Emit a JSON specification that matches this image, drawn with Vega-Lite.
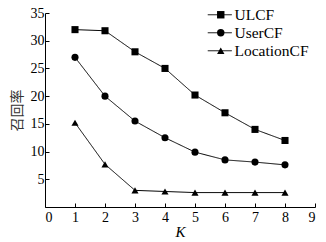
{
  "$schema": "https://vega.github.io/schema/vega-lite/v6.json",
  "autosize": "none",
  "width": 270,
  "height": 194,
  "padding": {"left": 45, "top": 13, "right": 11, "bottom": 35},
  "background": "white",
  "config": {
    "view": {"stroke": null},
    "font": "Liberation Serif",
    "axis": {
      "grid": false,
      "domainColor": "black",
      "tickColor": "black",
      "labelColor": "black",
      "labelFont": "Liberation Serif",
      "labelFontSize": 14,
      "titleFontWeight": "normal",
      "titleColor": "black"
    }
  },
  "data": {
    "values": [
      {"K": 1, "v": 32.0, "s": "ULCF"},
      {"K": 2, "v": 31.8, "s": "ULCF"},
      {"K": 3, "v": 28.0, "s": "ULCF"},
      {"K": 4, "v": 25.0, "s": "ULCF"},
      {"K": 5, "v": 20.2, "s": "ULCF"},
      {"K": 6, "v": 17.0, "s": "ULCF"},
      {"K": 7, "v": 14.0, "s": "ULCF"},
      {"K": 8, "v": 12.0, "s": "ULCF"},
      {"K": 1, "v": 27.0, "s": "UserCF"},
      {"K": 2, "v": 20.0, "s": "UserCF"},
      {"K": 3, "v": 15.5, "s": "UserCF"},
      {"K": 4, "v": 12.5, "s": "UserCF"},
      {"K": 5, "v": 9.9, "s": "UserCF"},
      {"K": 6, "v": 8.5, "s": "UserCF"},
      {"K": 7, "v": 8.1, "s": "UserCF"},
      {"K": 8, "v": 7.6, "s": "UserCF"},
      {"K": 1, "v": 15.2, "s": "LocationCF"},
      {"K": 2, "v": 7.7, "s": "LocationCF"},
      {"K": 3, "v": 3.0, "s": "LocationCF"},
      {"K": 4, "v": 2.8, "s": "LocationCF"},
      {"K": 5, "v": 2.6, "s": "LocationCF"},
      {"K": 6, "v": 2.6, "s": "LocationCF"},
      {"K": 7, "v": 2.6, "s": "LocationCF"},
      {"K": 8, "v": 2.6, "s": "LocationCF"}
    ]
  },
  "encoding": {
    "x": {
      "field": "K", "type": "quantitative",
      "scale": {"domain": [0, 9], "nice": false, "zero": false},
      "axis": {"values": [0,1,2,3,4,5,6,7,8,9], "tickSize": -4, "labelPadding": 7, "format": "d",
               "title": "K", "titleFont": "Liberation Serif", "titleFontStyle": "italic", "titleFontSize": 15, "titlePadding": 0}
    },
    "y": {
      "field": "v", "type": "quantitative",
      "scale": {"domain": [0, 35], "nice": false},
      "axis": {"values": [5,10,15,20,25,30,35], "tickSize": -4, "labelPadding": 5,
               "title": "召回率", "titleFont": "Noto Sans CJK SC", "titleFontSize": 14, "titleColor": "#333", "titlePadding": 6}
    }
  },
  "layer": [
    {
      "mark": {"type": "line", "color": "black", "strokeWidth": 1},
      "encoding": {
        "strokeDash": {
          "field": "s", "type": "nominal",
          "sort": ["ULCF", "UserCF", "LocationCF"],
          "scale": {"range": [[1, 0], [1, 0], [1, 0]]},
          "legend": {
            "title": null,
            "orient": "none",
            "legendX": 167,
            "legendY": -6,
            "padding": 0,
            "symbolType": "M-2.4,0H2.4",
            "symbolSize": 100,
            "symbolStrokeColor": "black",
            "symbolStrokeWidth": 1,
            "symbolDash": [1, 0],
            "labelFont": "Liberation Serif",
            "labelFontSize": 15.5,
            "labelColor": "black",
            "labelOffset": 7,
            "rowPadding": 1
          }
        }
      }
    },
    {
      "mark": {"type": "point", "filled": true, "color": "black", "opacity": 1, "size": 50},
      "encoding": {
        "shape": {
          "field": "s", "type": "nominal",
          "scale": {"domain": ["ULCF", "UserCF", "LocationCF"], "range": ["square", "circle", "triangle-up"]},
          "legend": {
            "title": null,
            "orient": "none",
            "legendX": 168,
            "legendY": -6,
            "padding": 0,
            "symbolSize": 55,
            "symbolFillColor": "black",
            "symbolOpacity": 1,
            "labelFont": "Liberation Serif",
            "labelFontSize": 15.5,
            "labelColor": "black",
            "labelOpacity": 0,
            "labelOffset": 7,
            "rowPadding": 1
          }
        }
      }
    }
  ]
}
